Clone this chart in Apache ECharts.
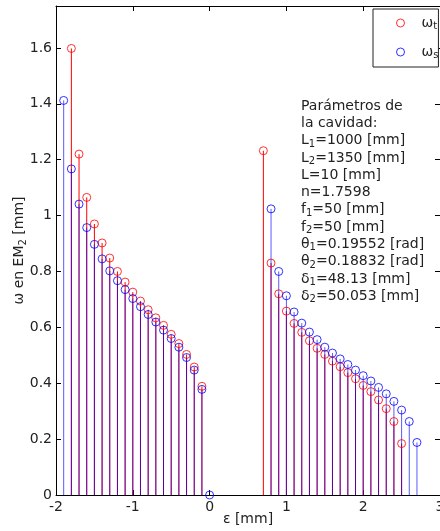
<!DOCTYPE html>
<html>
<head>
<meta charset="utf-8">
<script src="https://cdn.jsdelivr.net/npm/echarts@6/dist/echarts.min.js"></script>
<style>
html,body{margin:0;padding:0;background:#fff;}
#chart{width:440px;height:531px;}
</style>
</head>
<body>
<div id="chart"></div>
<script>
// ---- data ----
var epsT = [-1.8,-1.7,-1.6,-1.5,-1.4,-1.3,-1.2,-1.1,-1.0,-0.9,-0.8,-0.7,-0.6,-0.5,-0.4,-0.3,-0.2,-0.1,
            0.7,0.8,0.9,1.0,1.1,1.2,1.3,1.4,1.5,1.6,1.7,1.8,1.9,2.0,2.1,2.2,2.3,2.4,2.5];
var omegaT = [1.598,1.220,1.065,0.970,0.902,0.848,0.800,0.762,0.726,0.694,0.663,0.634,0.607,0.575,0.542,0.503,0.458,0.389,
              1.232,0.830,0.720,0.658,0.614,0.582,0.552,0.525,0.503,0.479,0.459,0.438,0.416,0.392,0.370,0.340,0.309,0.263,0.184];
var epsS = [-1.9,-1.8,-1.7,-1.6,-1.5,-1.4,-1.3,-1.2,-1.1,-1.0,-0.9,-0.8,-0.7,-0.6,-0.5,-0.4,-0.3,-0.2,-0.1,0,
            0.8,0.9,1.0,1.1,1.2,1.3,1.4,1.5,1.6,1.7,1.8,1.9,2.0,2.1,2.2,2.3,2.4,2.5,2.6,2.7];
var omegaS = [1.412,1.167,1.041,0.957,0.897,0.845,0.802,0.767,0.735,0.703,0.674,0.646,0.619,0.590,0.560,0.529,0.492,0.447,0.378,0,
              1.024,0.800,0.713,0.655,0.615,0.583,0.556,0.529,0.508,0.487,0.467,0.447,0.427,0.408,0.385,0.362,0.335,0.304,0.263,0.188];
var xTicks = [-2,-1,0,1,2,3];
var yTicks = [0,0.2,0.4,0.6,0.8,1,1.2,1.4,1.6];
var seriesNames = ['ωt','ωs'];
var paramLines = [
  ['Parámetros de'],
  ['la cavidad:'],
  ['L','1','=1000 [mm]'],
  ['L','2','=1350 [mm]'],
  ['L=10 [mm]'],
  ['n=1.7598'],
  ['f','1','=50 [mm]'],
  ['f','2','=50 [mm]'],
  ['θ','1','=0.19552 [rad]'],
  ['θ','2','=0.18832 [rad]'],
  ['δ','1','=48.13 [mm]'],
  ['δ','2','=50.053 [mm]']
];

var FONT = 'DejaVu Sans';
var RED = '#ff0000', BLUE = '#0000ff';

function pairs(xs, ys){ return xs.map(function(x,i){ return [x, ys[i]]; }); }

function stemSeries(data, color, opacity){
  return {
    type:'custom', data:data, silent:true, clip:false,
    encode:{x:0,y:1},
    renderItem:function(params, api){
      var x = api.value(0), y = api.value(1);
      var p0 = api.coord([x,0]), p1 = api.coord([x,y]);
      return {type:'line', shape:{x1:p0[0],y1:p0[1],x2:p1[0],y2:p1[1]},
              style:{stroke:color, lineWidth:1, opacity:opacity}};
    },
    z:2
  };
}

var richText = paramLines.map(function(l){
  if (l.length === 1) return '{n|' + l[0] + '}';
  return '{n|' + l[0] + '}{s|' + l[1] + '}{n|' + l[2] + '}';
}).join('\n');

var chart = echarts.init(document.getElementById('chart'), null, {renderer:'canvas'});
var axisCommon = {
  axisLine:{show:true, onZero:false, lineStyle:{color:'#000', width:1}},
  axisTick:{show:true, inside:true, length:5, lineStyle:{color:'#000', width:1}},
  splitLine:{show:false}
};
chart.setOption({
  animation:false,
  backgroundColor:'#fff',
  grid:{left:56, right:0, top:6, bottom:36, containLabel:false, outerBoundsMode:'none'},
  xAxis:[
    Object.assign({type:'value', min:xTicks[0], max:xTicks[xTicks.length-1], interval:1, position:'bottom',
      name:'ε [mm]', nameLocation:'middle', nameGap:17, nameMoveOverlap:false,
      nameTextStyle:{fontFamily:FONT, fontSize:14, color:'#222'},
      axisLabel:{fontFamily:FONT, fontSize:14, color:'#222', margin:5}}, axisCommon),
    Object.assign({type:'value', min:xTicks[0], max:xTicks[xTicks.length-1], interval:1, position:'top',
      axisLabel:{show:false}}, axisCommon)
  ],
  yAxis:[
    Object.assign({type:'value', min:0, max:1.75, interval:0.2, position:'left',
      name:'{a|ω en EM}{s|2}{a| [mm]}', nameLocation:'middle', nameGap:28, nameMoveOverlap:false,
      nameTextStyle:{fontFamily:FONT, fontSize:14, color:'#222',
        rich:{a:{fontFamily:FONT, fontSize:14, color:'#222'}, s:{fontFamily:FONT, fontSize:10, color:'#222', padding:[8,0,0,0]}}},
      axisLabel:{fontFamily:FONT, fontSize:14, color:'#222', margin:4, showMaxLabel:false,
        formatter:function(v){ return String(Math.round(v*10)/10); }}}, axisCommon),
    Object.assign({type:'value', min:0, max:1.75, interval:0.2, position:'right',
      axisLabel:{show:false}}, axisCommon)
  ],
  legend:{
    show:true, orient:'vertical', left:373, top:9,
    data:[
      {name:seriesNames[0], icon:'circle', itemStyle:{color:'rgba(0,0,0,0)', borderColor:RED, borderWidth:1}},
      {name:seriesNames[1], icon:'circle', itemStyle:{color:'rgba(0,0,0,0)', borderColor:BLUE, borderWidth:1}}
    ],
    itemWidth:32, itemHeight:8, itemGap:14,
    padding:[7,0,7,23],
    backgroundColor:'#fff', borderColor:'#222', borderWidth:1, borderRadius:0,
    formatter:function(n){ return '{a|ω}{s|' + n.slice(1) + '}'; },
    textStyle:{fontFamily:FONT, fontSize:14, color:'#222',
      rich:{a:{fontFamily:FONT, fontSize:14, color:'#222'}, s:{fontFamily:FONT, fontSize:10, color:'#222', padding:[6,0,0,0]}}}
  },
  graphic:[{
    type:'text', left:301, top:99, z:100,
    style:{text:richText, fontFamily:FONT, fontSize:14, fill:'#222',
      rich:{
        n:{fontFamily:FONT, fontSize:14, fill:'#222', lineHeight:17.3},
        s:{fontFamily:FONT, fontSize:10, fill:'#222', lineHeight:17.3, padding:[7,0,0,0]}
      }}
  }],
  series:[
    stemSeries(pairs(epsT, omegaT), RED, 1),
    {type:'scatter', name:seriesNames[0], data:pairs(epsT, omegaT), symbol:'circle', symbolSize:8,
     itemStyle:{color:'rgba(0,0,0,0)', borderColor:RED, borderWidth:1}, z:3},
    stemSeries(pairs(epsS, omegaS), BLUE, 0.65),
    {type:'scatter', name:seriesNames[1], data:pairs(epsS, omegaS), symbol:'circle', symbolSize:8,
     itemStyle:{color:'rgba(0,0,0,0)', borderColor:BLUE, borderWidth:1}, z:4}
  ]
});
</script>
</body>
</html>
